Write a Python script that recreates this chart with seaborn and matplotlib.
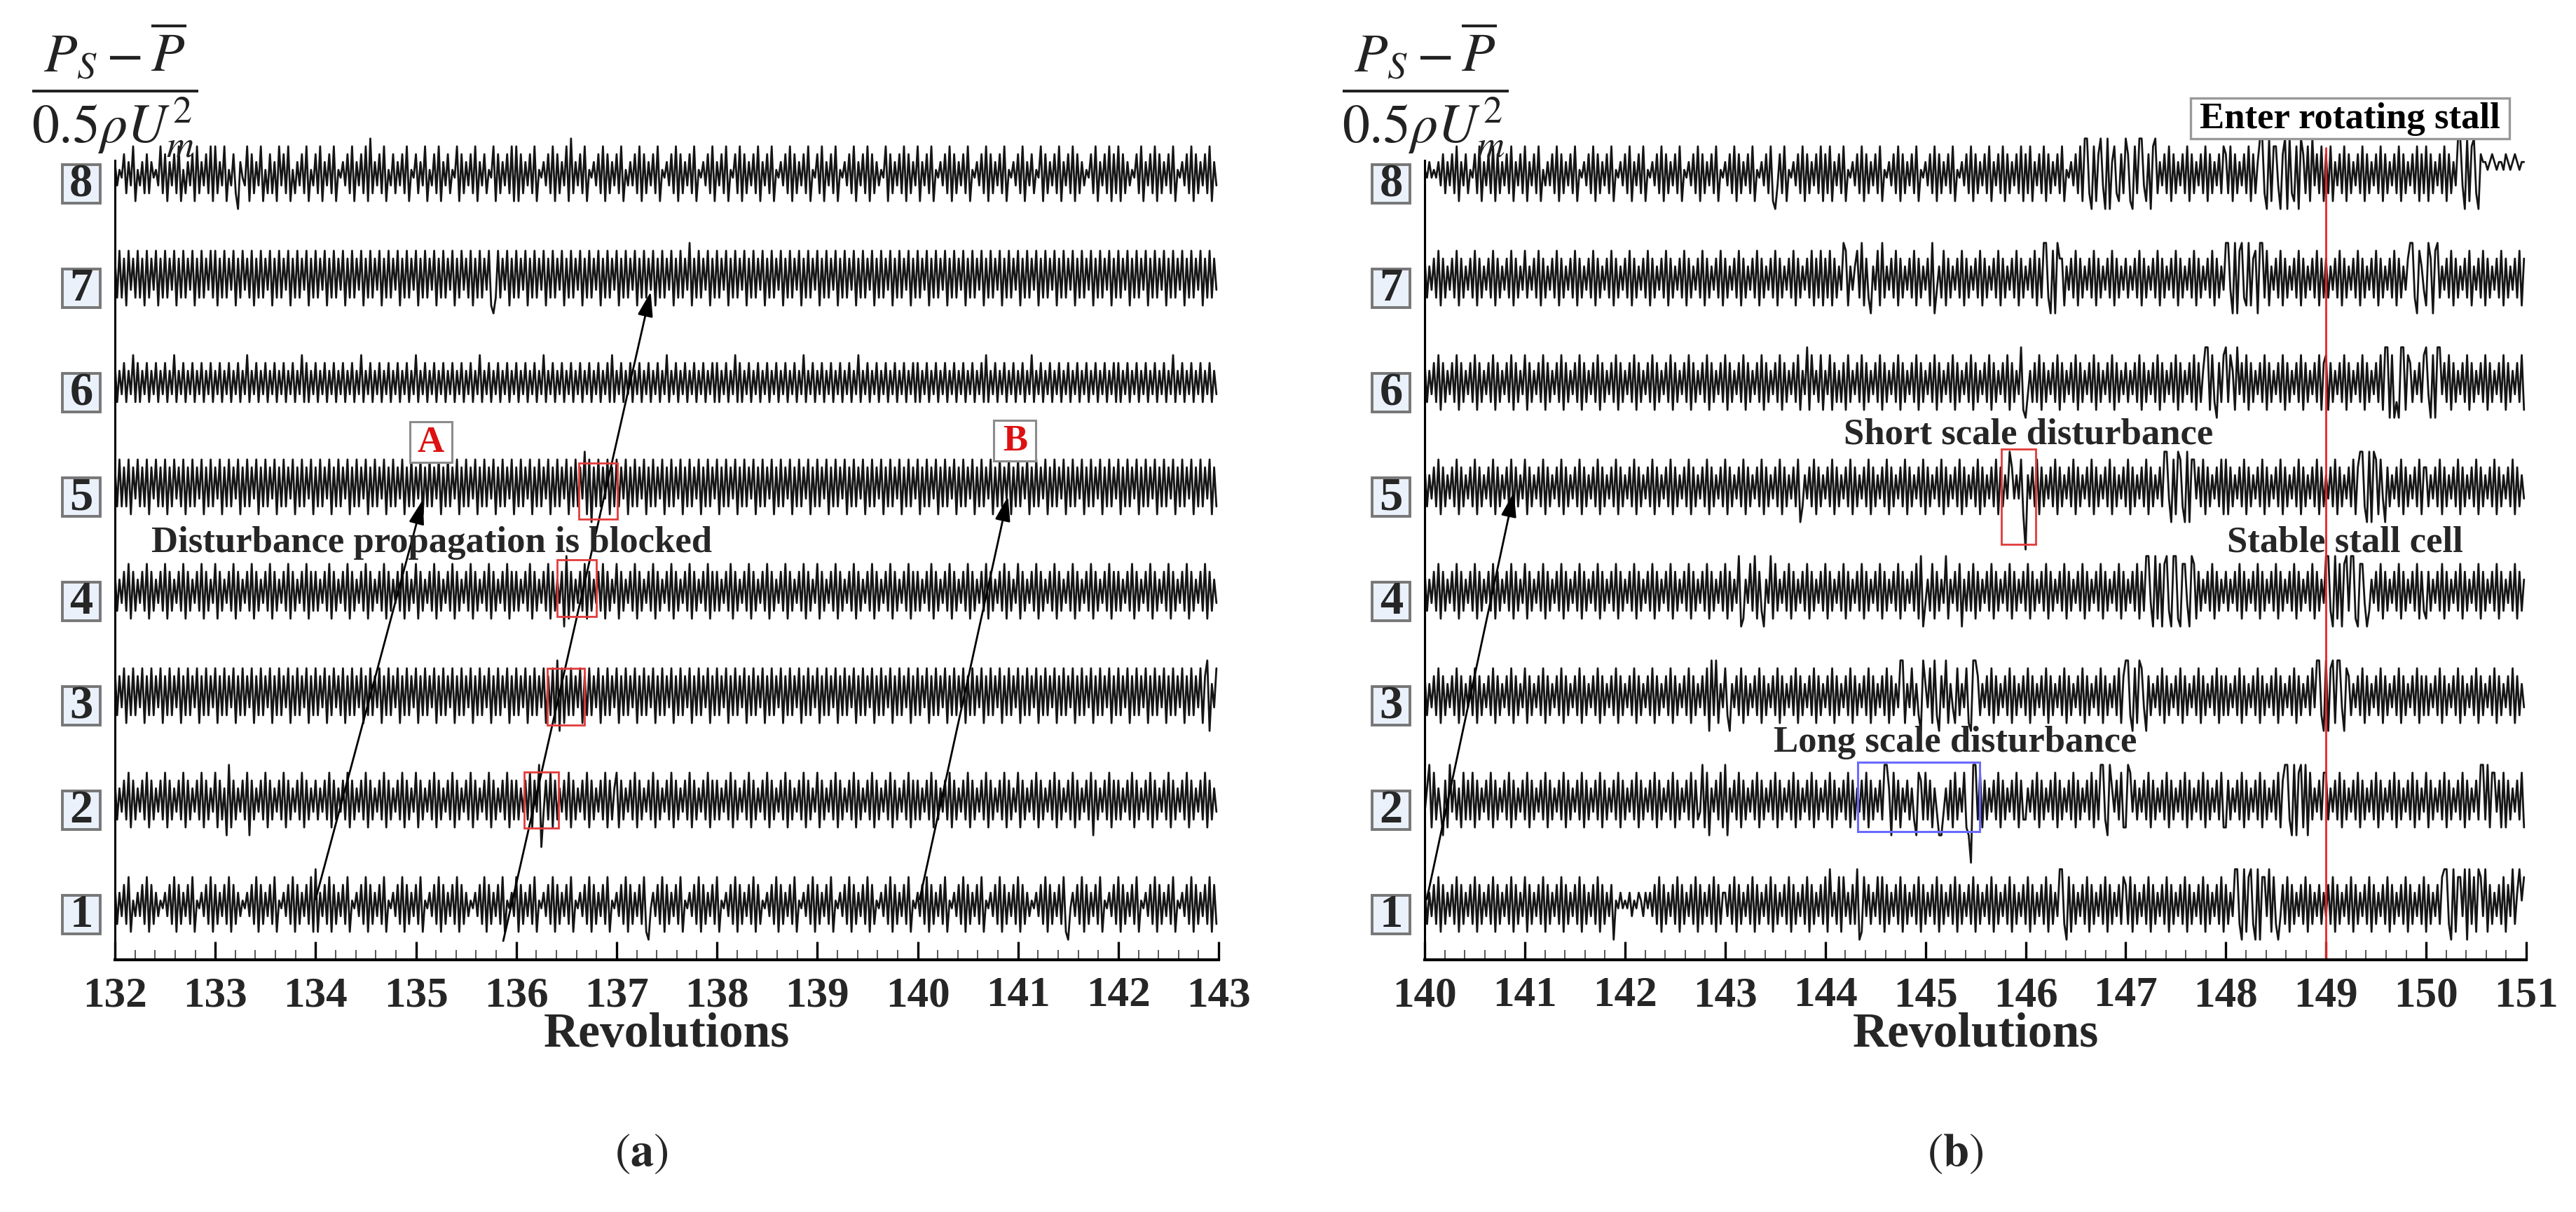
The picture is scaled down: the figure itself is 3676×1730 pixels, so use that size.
import numpy as np
import pandas as pd
import matplotlib
matplotlib.use("Agg")
import matplotlib.pyplot as plt
import matplotlib.transforms as mtransforms
from matplotlib.patches import Rectangle
from matplotlib.ticker import MultipleLocator
import seaborn as sns

# Probe numbers (bottom to top) and revolution windows of the two panels
PROBES = [1, 2, 3, 4, 5, 6, 7, 8]
REV_A = (132, 143)
REV_B = (140, 151)

# Pressure traces, one string per revolution,
# each character is a sample level ('0' low ... '9' high, 'w'/'x' deep dips)
A8 = ["63547263815362726453827163728152637182637281",
      "82638153720643817263815272618372815263728153",
      "72816372815463728163728192637281537263728154",
      "72638153728163725481726372816372548172637281",
      "81726372815463728172638192637281546372817263",
      "72815363728172637281546372817263728154637281",
      "63728154728172637281637281546372817263728154",
      "72816372815463728163728172635481726372817263",
      "81637281546372817263728154637281726372815463",
      "72816372548172637281637281726354728163728172",
      "81726354728163728172637281546372817263728163"]
A7 = ["72827183728271827381728273817282738172827382",
      "81728273817283728172827381728273817282738172",
      "82738172827381728273817282738172827381728273",
      "81728273817282738172837281728273810282738172",
      "82738172827381728273817282738172827381728273",
      "81728273817282738172827381728273917282738172",
      "82738172827381728273817282738172827381728273",
      "81728273817282738172827381728273817282738172",
      "82738172827381728273817282738172827381728273",
      "81728273817282738172827381728273817282738172",
      "82738172827381728273817282738172827381728273"]
A6 = ["72637263827263726372637263826372637263726372",
      "63726372637263826372637263726372637263827263",
      "72637263726372637263826372637263726372637263",
      "82637263726372637263726372638263726372637263",
      "72637263726382637263726372637263726372637282",
      "63726372637263726372638263726372637263726372",
      "72637263827263726372637263726372637263826372",
      "63726372637263726382637263726372637263726372",
      "72637263726372637263726372637282637263726372",
      "63726382637263726372637263726372637263726372",
      "72637263726372637263726382637263726372637263"]
A5 = ["72827281738272817382728172837281728273817282",
      "73817282738172827381728273817282738172827381",
      "72827381728273817282738172827381728273817282",
      "73817282738172827381728273817282738172827381",
      "72827381728273817282738172827391807282738172",
      "82738172827381728273817282738172827381728273",
      "81728273817282738172827381728273817282738172",
      "82738172827381728273817282738172827381728273",
      "81728273817282738172827381728273817282738172",
      "82738172827381728273817282738172827381728273",
      "81728273817282738172827381728273817282738172"]
A4 = ["72637281726372817263728172637281726372817263",
      "81726372817263728172637281726372817263728172",
      "72637281726372817263728172637281726372817263",
      "81726372817263728172637281726372817263728172",
      "72637281726372817263709172637281726372817263",
      "81726372817263728172637281726372817263728172",
      "72637281726372817263728172637281726372817263",
      "81726372817263728172637281726372817263728172",
      "72637281726372817263728172637281726372817263",
      "81726372817263728172637281726372817263728172",
      "72637281726372817263728172637281726372817263"]
A3 = ["82738172827381728273817282738172827381728273",
      "81728273817282738172827381728273817282738172",
      "82738172837281728273817282738172827381728273",
      "81728273817282738172827381728273817282738172",
      "82738172827381728190817282738172827381728273",
      "81728273817282738172827381728273817282738172",
      "82738172827381728273817282738172827381728273",
      "81728273817282738172827381728273817282738172",
      "82738172827381728273817282738172827381728273",
      "81728273817282738172827381728273817282738172",
      "82738172827381728273817282738172827381790638"]
A2 = ["72637281726372817263728172637281726372817263",
      "81726091726372807263728172637281726372817263",
      "72637281726372817263728172637281726372817263",
      "81726372817263728172637281726372817263728172",
      "72637281739w37281726372817263728172637281726",
      "81726372817263728172637281726372817263728172",
      "72637281726372817263728172637281726372817263",
      "81726372817263728172637281726372817263728172",
      "72637281726372817263728172637281726372817263",
      "81726372817263728172637281726372807263728172",
      "72637281726372817263728172637281726372817263"]
A1 = ["72637281536372817263546372817263728154637281",
      "72637281726354637281726372815463728172637281",
      "91637281726372815463728172637281546372817263",
      "72815463728172637281726354637281726372815463",
      "81726372815463728172637281546372817263728154",
      "63728172637281046372817263728154637281726372",
      "81546372817263728172546372817263728154637281",
      "72637281546372817263728172546372817263728154",
      "63728172637281546372817263728154637281726372",
      "81726354637281726372810463728172637281546372",
      "81726372815463728172637281546372817263728172"]

B8 = ["54645463726372816372547281637281726372816372",
      "81637281536372817263728154637281726372815463",
      "72816372815463728172637281546372817263728154",
      "63728172637281546372810372815463728172637281",
      "72816372815463728172637281546372817263728154",
      "63728172637281546372817263728163728172637281",
      "72816372817263728154637281992081793090682172",
      "97108299317089263728172637281726372817263728",
      "72817263728172699209188307909218097281937281",
      "72816372817263728172637281726372817263728172",
      "81726372817263993091892076656765665765676566"]
B7 = ["72637281726372817263728172637281726372817263",
      "82637281726372817263728172637281726372817263",
      "72817263728172637281726372817263728172637281",
      "72637281726372817263728172637281726372817281",
      "72817263981636829172063819263728172637281726",
      "37190362817263728172637281726372817263728172",
      "63728172992080977163728172637281726372817263",
      "72637281726372817263728172637281726372817263",
      "99309089219178099281637281726372817263728172",
      "72637281726372817263728172637281726379920863",
      "19708926372817263728163728172637281726372817"]
B6 = ["72637281726372817263728172637281726372817263",
      "81726372817263728172637281726372817263728172",
      "63728172637281726372817263728172637281726372",
      "81726372817263728172637281726372816391836281",
      "63817262718263728172637281726372817263728172",
      "63728172637281726372817263728172637281726391",
      "03627281726372817263728172637281726372817263",
      "72637281726372817263728172637281726991820728",
      "92861937281726372817263728172637281726372817",
      "81726372817263728172637281990802099187263728",
      "93080993728172637281726372817263728172637281"]
B5 = ["72637281726372817263728172637281726372817263",
      "81726372817263728172637281726372817263728172",
      "63728172637281726372817263728172637281726372",
      "81726372817263728172637281726372802637281726",
      "37281726372817263728172637281726372817263728",
      "17263728172637281726372817263728172639736381",
      "x6372817263728172637281726372817263728172637",
      "28172637281726372993081982090883728172637281",
      "81726372817263728172637281726372817263728172",
      "63728172637281799209098183072637281726372817",
      "72637281726372817263728172637281726372817263"]
B4 = ["72637281726372817263728172637281726372817263",
      "81726372817263728172637281726372817263728172",
      "63728172637281726372817263728172637281726372",
      "81726390163829172063918263728172637281726372",
      "81726372817263728172637281726372817263728190",
      "36281726391637280627281726372817263728172637",
      "28172637281726372817263728172637281726372817",
      "26372817299309180892099108830981726372817263",
      "72637281726372817263728172637281726372817263",
      "99209180892991088302637281726372817263728172",
      "17263728172637281726372817263728172637281726"]
B3 = ["72637281726372817263728172637281726372817263",
      "81726372817263728172637281726372817263728172",
      "63728172637281726372817263728172637280929163",
      "82063728172637281726372817263728172637281726",
      "37281726372817263728172637281726399163826209",
      "63819207391631826381099726372817263728172637",
      "28172637281726372817263728172637281726372817",
      "99208198307263728172637281726372817263728172",
      "72637281726372817263728172637281726372839920",
      "90891993087263728172637281726372817263728172",
      "72637281726372817263728172637281726372817263"]
B2 = ["36918263071937261827281726372817263728172637",
      "28172637281726372817263728172637281726372817",
      "26372817263728172637281726372817239180637281",
      "90637281726372817263728172637281726372817263",
      "72817263728172637281726372996082716372620872",
      "82716300362718263810x99281726372817263728172",
      "26372817263728172637281726372817299209637281",
      "19837263728172637281726372817263728172637281",
      "17263728172637281726372817992090891908263728",
      "82637281726372817263728172637281726372817263",
      "81726372817263728172637299291883718172637281"]
B1 = ["72637281726372817263728172637281726372817263",
      "81726372817263728172637281726372817263705464",
      "54635465364637281726372817263728172637281726",
      "63728172637281726372817263728172637281726372",
      "81936281836272901837263828172637281726372817",
      "26372817263728172637281726372817263728172637",
      "28172637281726399208172637281726372817263728",
      "72817263728172637281726372817263728172637281",
      "72639920918920908839182037281726372817263726",
      "37281726372817263728172637281726372817263728",
      "17263728992091883909281983917263728173926958"]

PANEL_A = {1: A1, 2: A2, 3: A3, 4: A4, 5: A5, 6: A6, 7: A7, 8: A8}
PANEL_B = {1: B1, 2: B2, 3: B3, 4: B4, 5: B5, 6: B6, 7: B7, 8: B8}

LEVEL = {str(d): (d - 4.5) * 0.075 for d in range(10)}
LEVEL.update({"w": -0.45, "x": -0.6})


def trace_frame(chunks, rev0, probe):
    xs, ys = [], []
    for i, chunk in enumerate(chunks):
        n = len(chunk)
        for j, c in enumerate(chunk):
            xs.append(rev0 + i + j / n)
            ys.append(probe + LEVEL[c])
    return pd.DataFrame({"rev": xs, "p": ys, "probe": probe})


sns.set_theme(style="white")
plt.rcParams["font.family"] = ["Liberation Serif", "DejaVu Serif"]
plt.rcParams["mathtext.fontset"] = "stix"

YLO, YHI = 0.47, 8.6
fig = plt.figure(figsize=(18.38, 8.655), dpi=200)
ax_a = fig.add_axes([0.0446, 0.2080, 0.4285, 0.6998])
ax_b = fig.add_axes([0.5531, 0.2080, 0.4276, 0.6998])


def draw_panel(ax, traces, rev):
    df = pd.concat([trace_frame(traces[k], rev[0], k) for k in PROBES])
    sns.lineplot(data=df, x="rev", y="p", units="probe", estimator=None,
                 sort=False, color="#151515", lw=1.0, ax=ax, legend=False)
    ax.set_xlim(*rev)
    ax.set_ylim(YLO, YHI)
    ticks = list(range(rev[0], rev[1] + 1))
    ax.set_xticks(ticks)
    ax.set_xticklabels([str(t) for t in ticks], fontweight="bold")
    ax.xaxis.set_minor_locator(MultipleLocator(0.2))
    ax.set_yticks([])
    ax.set_xlabel("")
    ax.set_ylabel("")
    for s in ["top", "right"]:
        ax.spines[s].set_visible(False)
    ax.spines["left"].set_bounds(YLO, 8.13)
    ax.spines["left"].set_linewidth(1.1)
    ax.spines["bottom"].set_linewidth(1.5)
    for s in ["left", "bottom"]:
        ax.spines[s].set_color("black")
    ax.tick_params(axis="x", which="major", direction="in", length=9.4,
                   width=1.2, pad=8, labelsize=22, color="black", bottom=True)
    ax.tick_params(axis="x", which="minor", direction="in", length=5,
                   width=0.7, color="#555555", bottom=True)
    ax.patch.set_alpha(0)

    # boxed probe numbers left of the axis
    trans = mtransforms.blended_transform_factory(ax.transAxes, ax.transData)
    for k in PROBES:
        ax.add_patch(Rectangle((-0.0305 - 0.0172, k - 0.1 - 0.185), 0.0344, 0.37,
                               transform=trans, fc="#eaf1fa", ec="#777777",
                               lw=1.4, clip_on=False))
        ax.text(-0.0305, k - 0.1, str(k), transform=trans, ha="center",
                va="center", fontsize=24, fontweight="bold")

    # y label fraction, centred over the left spine
    pos = ax.get_position()
    fig.text(pos.x0, 0.926, r"$\dfrac{P_S-\overline{P}}{0.5\rho U_m^2}$",
             ha="center", va="center", fontsize=28, color="#222222")
    fig.text((pos.x0 + pos.x1) / 2, 0.137, "Revolutions", ha="center",
             va="baseline", fontsize=25, fontweight="bold")


def arrow(ax, start, end):
    ax.annotate("", xy=end, xytext=start,
                arrowprops=dict(arrowstyle="-|>,head_length=0.9,head_width=0.28",
                                color="black", lw=1.0, shrinkA=0, shrinkB=0))


def letter_box(ax, x, y, s, w, h, color, ec="#8c8c8c", lw=1.1, fs=19):
    ax.add_patch(Rectangle((x - w / 2, y - h / 2), w, h, fc="white", ec=ec,
                           lw=lw, clip_on=False, zorder=3))
    ax.text(x, y, s, ha="center", va="center", fontsize=fs,
            fontweight="bold", color=color, zorder=4)


draw_panel(ax_a, PANEL_A, REV_A)
draw_panel(ax_b, PANEL_B, REV_B)

# ---- panel (a) annotations
arrow(ax_a, (134.0, 1.05), (135.07, 4.88))
arrow(ax_a, (135.87, 0.65), (137.34, 6.87))
arrow(ax_a, (140.02, 1.05), (140.90, 4.91))
for x, y, w in [(136.62, 4.69, 0.39), (136.41, 3.76, 0.39),
                (136.31, 2.72, 0.37), (136.08, 1.73, 0.34)]:
    ax_a.add_patch(Rectangle((x, y), w, 0.54, fill=False, ec="#e23b3b", lw=1.0, zorder=3))
letter_box(ax_a, 135.15, 5.43, "A", 0.42, 0.39, "#dd1111")
letter_box(ax_a, 140.97, 5.44, "B", 0.42, 0.39, "#dd1111")
ax_a.text(135.16, 4.47, "Disturbance propagation is blocked", ha="center",
          va="center", fontsize=19, fontweight="bold")

# ---- panel (b) annotations
arrow(ax_b, (140.02, 1.05), (140.89, 4.95))
ax_b.plot([149, 149], [YLO, 8.25], color="#e8242b", lw=1.0, clip_on=False, zorder=2)
ax_b.add_patch(Rectangle((145.76, 4.45), 0.34, 0.91, fill=False, ec="#e23b3b", lw=1.0, zorder=3))
ax_b.add_patch(Rectangle((144.32, 1.70), 1.22, 0.66, fill=False, ec="#6a6aff", lw=1.1, zorder=3))
ax_b.text(146.03, 5.51, "Short scale disturbance", ha="center", va="center",
          fontsize=19, fontweight="bold")
ax_b.text(149.19, 4.47, "Stable stall cell", ha="center", va="center",
          fontsize=19, fontweight="bold")
ax_b.text(145.3, 2.56, "Long scale disturbance", ha="center", va="center",
          fontsize=19, fontweight="bold")
letter_box(ax_b, 149.24, 8.53, "Enter rotating stall", 3.18, 0.39, "black",
           ec="#999999", lw=1.2)

fig.text(0.249, 0.0387, r"$(\mathbf{a})$", ha="center", va="baseline", fontsize=24)
fig.text(0.759, 0.0387, r"$(\mathbf{b})$", ha="center", va="baseline", fontsize=24)

fig.savefig("out.png", dpi=200)
